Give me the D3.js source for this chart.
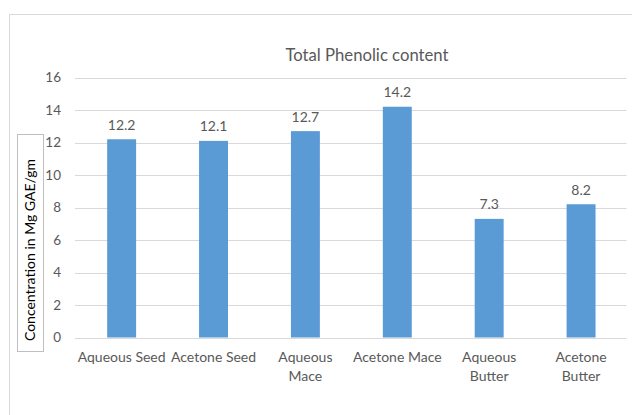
<!DOCTYPE html>
<html><head><meta charset="utf-8">
<script src="https://cdn.jsdelivr.net/npm/d3@7"></script>
<style>body{margin:0;background:#fff;}svg{display:block;font-family:Lato,"Open Sans",sans-serif;}</style>
</head><body><svg id="c" width="632" height="415"></svg>
<script>
const categories = [["Aqueous Seed"],["Acetone Seed"],["Aqueous","Mace"],["Acetone Mace"],["Aqueous","Butter"],["Acetone","Butter"]];
const categoryNames = ["Aqueous Seed","Acetone Seed","Aqueous Mace","Acetone Mace","Aqueous Butter","Acetone Butter"];
const values = [12.2, 12.1, 12.7, 14.2, 7.3, 8.2];
const yTicks = [0,2,4,6,8,10,12,14,16];
const title = "Total Phenolic content";
const yTitle = "Concentration in Mg GAE/gm";

const svg = d3.select("#c");
const textColor = "#595959", gridColor = "#D9D9D9", barColor = "#5B9BD5";

// chart border
svg.append("rect").attr("x",9.5).attr("y",14.5).attr("width",700).attr("height",500)
  .attr("fill","none").attr("stroke",gridColor);

const x = d3.scaleBand().domain(categoryNames).range([75.7,627]).paddingInner(0.685).paddingOuter(0.3425);
const y = d3.scaleLinear().domain([0,16]).range([337.5,77.5]);

// gridlines
svg.append("g").selectAll("line").data(yTicks).join("line")
  .attr("x1",75).attr("x2",626.5)
  .attr("y1",d=>Math.round(y(d))+0.5).attr("y2",d=>Math.round(y(d))+0.5)
  .attr("stroke",gridColor).attr("stroke-width",1);

// y tick labels
const yAxis = d3.axisLeft(y).tickValues(yTicks).tickSize(0).tickPadding(0);
const yg = svg.append("g").attr("transform","translate(61,0)").call(yAxis);
yg.select(".domain").remove();
yg.selectAll("text").attr("fill",textColor).style("font-size","13.5px").style("font-family","Lato,sans-serif");

// bars
svg.append("g").selectAll("rect").data(values).join("rect")
  .attr("x",(d,i)=>x(categoryNames[i])).attr("width",x.bandwidth())
  .attr("y",d=>y(d)).attr("height",d=>y(0)-y(d)).attr("fill",barColor);

// data labels
svg.append("g").selectAll("text").data(values).join("text")
  .attr("x",(d,i)=>x(categoryNames[i])+x.bandwidth()/2).attr("y",d=>y(d)-9.5)
  .attr("text-anchor","middle").attr("fill",textColor).style("font-size","14px")
  .text(d=>d.toFixed(1));

// x labels
const xl = svg.append("g").selectAll("text").data(categories).join("text")
  .attr("x",(d,i)=>x(categoryNames[i])+x.bandwidth()/2).attr("y",361.5)
  .attr("text-anchor","middle").attr("fill",textColor).style("font-size","14px");
xl.selectAll("tspan").data(d=>d).join("tspan")
  .attr("x",function(){return this.parentNode.getAttribute("x");})
  .attr("dy",(d,i)=>i===0?0:19.3).text(d=>d);

// title
svg.append("text").attr("x",367).attr("y",60.5).attr("text-anchor","middle")
  .attr("fill",textColor).style("font-size","16.7px").text(title);

// y title box
svg.append("rect").attr("x",17.5).attr("y",134.5).attr("width",26).attr("height",217)
  .attr("fill","#fff").attr("stroke","#BFBFBF");
svg.append("text").attr("transform","translate(35,250) rotate(-90)").attr("text-anchor","middle")
  .attr("fill","#000").style("font-size","14px").text(yTitle);
</script></body></html>
